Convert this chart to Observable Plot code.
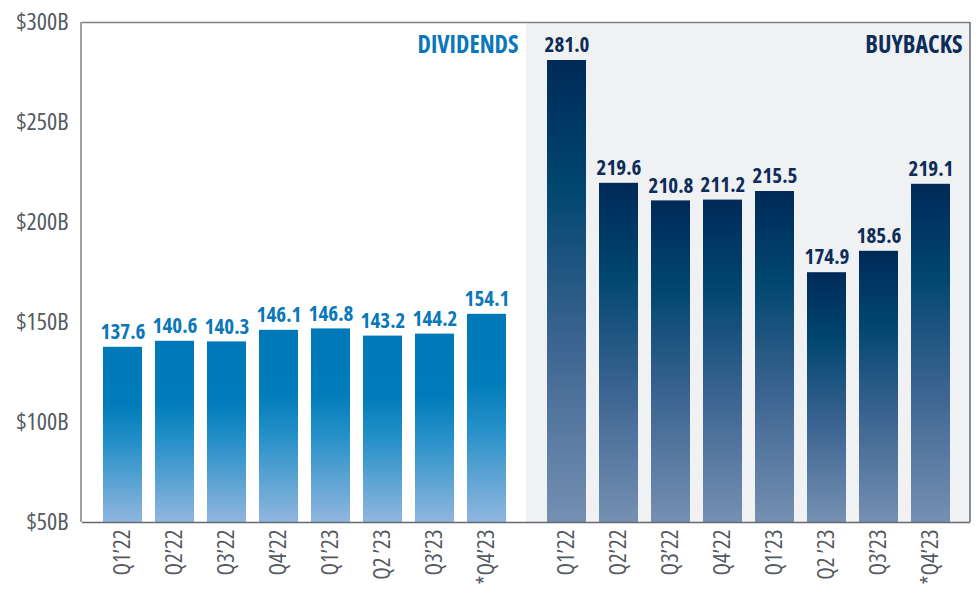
<!DOCTYPE html>
<html>
<head>
<meta charset="utf-8">
<script src="https://cdn.jsdelivr.net/npm/d3@7"></script>
<script src="https://cdn.jsdelivr.net/npm/@observablehq/plot@0.6"></script>
<style>
  html, body { margin: 0; padding: 0; background: #fff; }
  #chart svg { font-family: "Open Sans", "Noto Sans", sans-serif; font-stretch: 75%; }
</style>
</head>
<body>
<div id="chart"></div>
<script>
const quarters = ["Q1’22", "Q2’22", "Q3’22", "Q4’22", "Q1’23", "Q2 ’23", "Q3’23", "*Q4’23"];
const dividends = [137.6, 140.6, 140.3, 146.1, 146.8, 143.2, 144.2, 154.1];
const buybacks = [281.0, 219.6, 210.8, 211.2, 215.5, 174.9, 185.6, 219.1];
const groups = ["DIVIDENDS", "BUYBACKS"];
const yTicks = [50, 100, 150, 200, 250, 300];

const colors = { DIVIDENDS: "#0a78b9", BUYBACKS: "#0c2d5a" };
const rows = [
  ...quarters.map((q, i) => ({ group: "DIVIDENDS", quarter: q, value: dividends[i] })),
  ...quarters.map((q, i) => ({ group: "BUYBACKS", quarter: q, value: buybacks[i] }))
];

function defs() {
  const d = d3.create("svg:defs");
  const mk = (id, stops) => {
    const g = d.append("linearGradient").attr("id", id).attr("x1", 0).attr("y1", 0).attr("x2", 0).attr("y2", 1);
    for (const [o, c] of stops) g.append("stop").attr("offset", o).attr("stop-color", c);
  };
  mk("gDiv", [["0%", "#0079b8"], ["33%", "#007cba"], ["55%", "#2590c8"], ["100%", "#90b6de"]]);
  mk("gBuy", [["0%", "#002a58"], ["27%", "#00466f"], ["60%", "#3a6390"], ["100%", "#7590b2"]]);
  return d.node();
}

const chart = Plot.plot({
  width: 978,
  height: 592,
  marginLeft: 81,
  marginRight: 8,
  marginTop: 22,
  marginBottom: 70,
  style: { fontSize: "23px", color: "#555a62", background: "#fff" },
  fx: { domain: groups, padding: 0, axis: null, label: null },
  x: { domain: quarters, paddingInner: 0.25, paddingOuter: 0.375, tickRotate: -90, tickSize: 0, tickPadding: 7, label: null },
  y: { domain: [50, 300], ticks: yTicks, tickFormat: d => `$${d}B`, tickSize: 0, tickPadding: 14, label: null },
  marks: [
    defs,
    Plot.rect(groups.slice(1), { fx: d => d, y1: 50, y2: 300, fill: "#f0f1f3" }),
    Plot.barY(rows, { fx: "group", x: "quarter", y1: 50, y2: "value", fill: d => d.group === "DIVIDENDS" ? "url(#gDiv)" : "url(#gBuy)" }),
    Plot.text(rows, { fx: "group", x: "quarter", y: "value", text: d => d.value.toFixed(1), dy: -15, fontWeight: "bold", fontSize: 21, fill: d => colors[d.group] }),
    Plot.text(groups, { fx: d => d, text: d => d, frameAnchor: "top-right", dx: -8, dy: 13, fontWeight: "bold", fontSize: 24, fill: d => colors[d] }),
    Plot.ruleY([300], { stroke: "#808080", strokeWidth: 1.5 }),
    Plot.ruleY([50], { stroke: "#666a70", strokeWidth: 1.5 })
  ]
});

// larger y tick labels
d3.select(chart).selectAll('g[aria-label="y-axis tick label"]').attr("font-size", "24px");

// outer border sides, placed from the chart's own y scale and margins
{
  const y = chart.scale("y");
  const svg = d3.select(chart);
  const W = 978, mL = 81, mR = 8;
  const [y0, y1] = [y.apply(300), y.apply(50)];
  svg.append("line").attr("x1", mL).attr("x2", mL).attr("y1", y0).attr("y2", y1)
    .attr("stroke", "#808080").attr("stroke-width", 1.5);
  svg.append("line").attr("x1", W - mR).attr("x2", W - mR).attr("y1", y0).attr("y2", y1)
    .attr("stroke", "#666a70").attr("stroke-width", 1.5);
}
document.getElementById("chart").appendChild(chart);
</script>
</body>
</html>
